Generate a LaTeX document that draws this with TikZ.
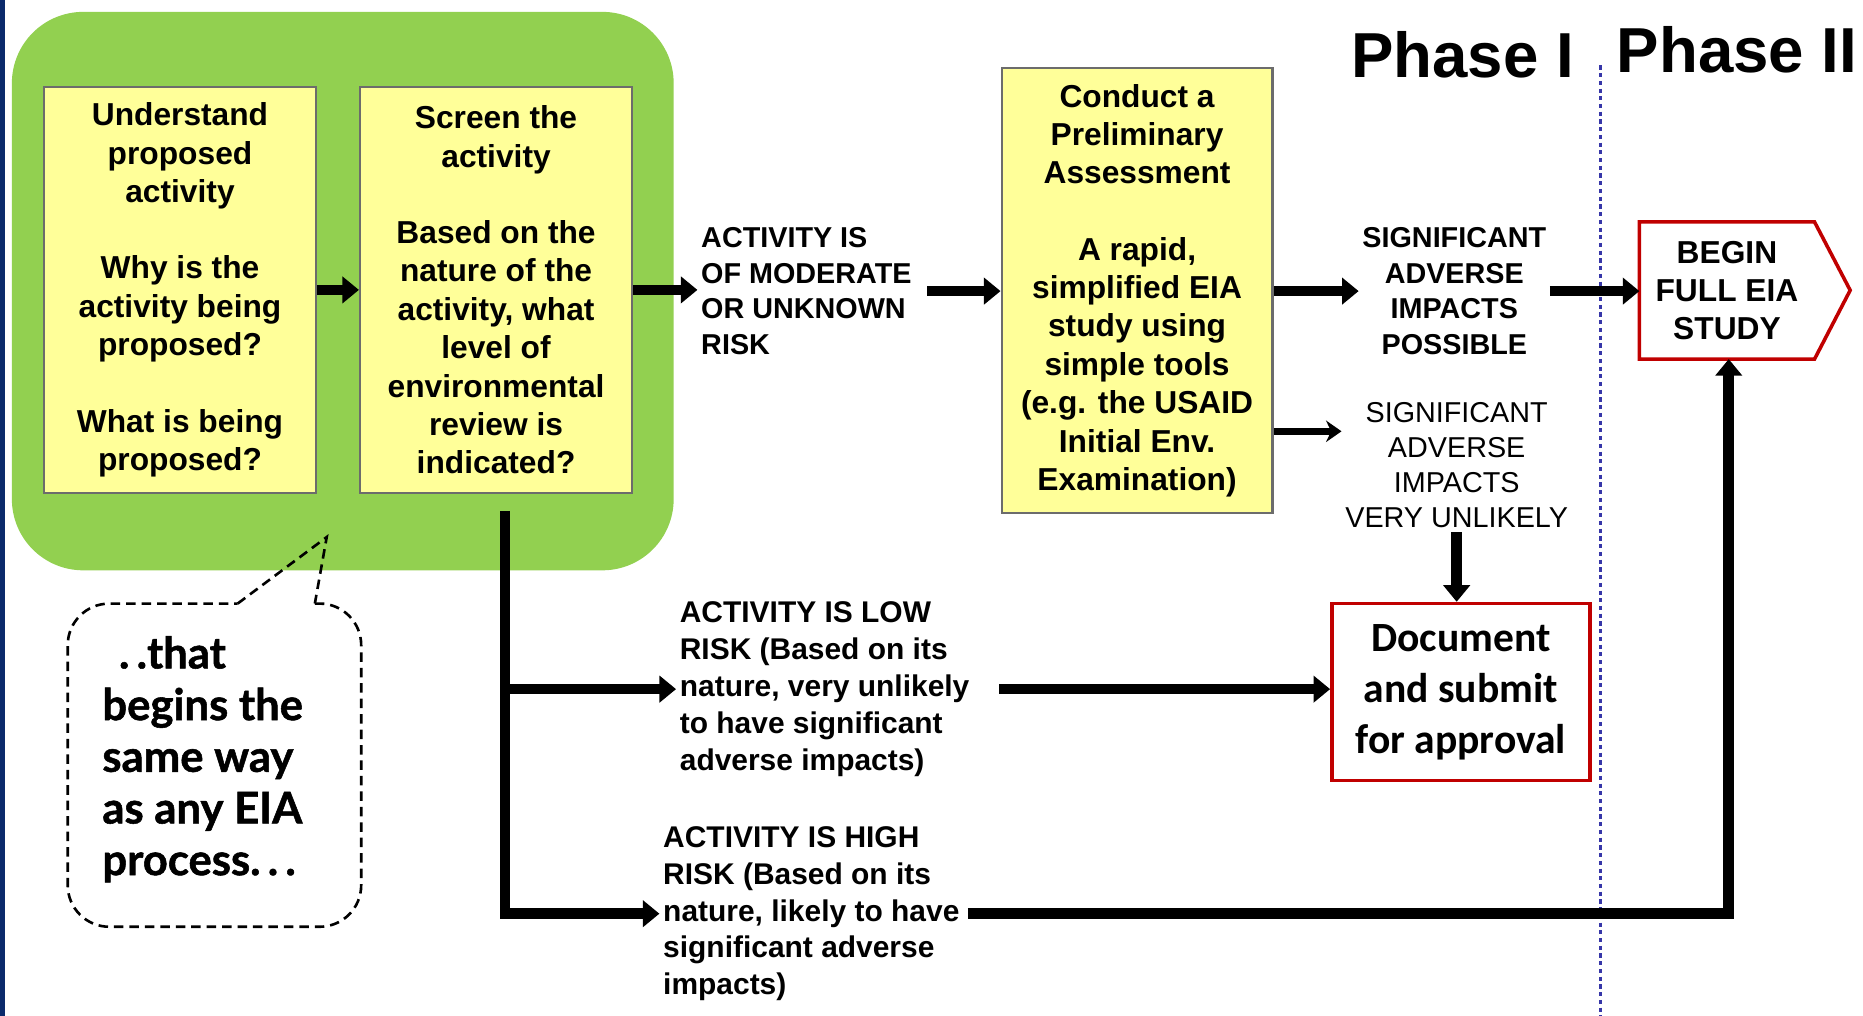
\documentclass[tikz,border=0pt]{standalone}
\usepackage{fontspec}
\setmainfont{Liberation Sans}
\newfontfamily\calloutfont[FakeBold=1.2]{Lato}
\newfontfamily\docfont{Carlito}
\usetikzlibrary{arrows.meta}
\usepackage{xcolor}
\definecolor{leafgreen}{HTML}{92D050}
\definecolor{paleyellow}{HTML}{FFFF99}
\definecolor{boxred}{HTML}{C00000}
\definecolor{navybar}{HTML}{0B2A6B}
\definecolor{phaseblue}{HTML}{3636A8}

\begin{document}
\begin{tikzpicture}[x=1pt, y=-1pt,
        stepbox/.style={draw=gray!85!black, line width=1.8pt, fill=paleyellow, align=center, inner sep=0pt,
            minimum width=229pt, minimum height=342pt, font=\bfseries\fontsize{26.7}{32.3}\selectfont},
        risklabel/.style={inner sep=3pt, font=\bfseries\fontsize{24.2}{30}\selectfont},
        branchlabel/.style={inner sep=3pt, align=left, anchor=west, font=\bfseries\fontsize{25.2}{31}\selectfont},
        redbox/.style={draw=boxred, line width=3pt, fill=white, align=center},
        blockarrow/.style={line width=9pt, -{Triangle[length=14pt, width=22pt]}},
        phase/.style={inner sep=0pt, font=\bfseries\fontsize{53.5}{60}\selectfont}]

        \useasboundingbox (0,0) rectangle (1568,855);
        \fill[navybar] (0,0) rectangle (4,855);
        \fill[leafgreen, rounded corners=60pt] (10,10) rectangle (567,480);

        % first steps
        \node[stepbox] (understand) at (151.5,244) {Understand\\ proposed\\ activity\\[32pt]
            Why is the\\ activity being\\ proposed?\\[32pt] What is being\\ proposed?};
        \node[stepbox] (screen) at (417.5,244) {Screen the\\ activity\\[32pt] Based on the\\ nature of the\\
            activity, what\\ level of\\ environmental\\ review is\\ indicated?};
        \node[stepbox, minimum width=228pt, minimum height=375pt] (prelim) at (957,244.5) {Conduct a\\ Preliminary\\
            Assessment\\[32pt] A rapid,\\ simplified EIA\\ study using\\ simple tools\\ (e.g. the USAID\\
            Initial Env.\\ Examination)};

        \node[risklabel, anchor=west, align=left] (moderate) at (587,245) {ACTIVITY IS\\ OF MODERATE\\ OR UNKNOWN\\ RISK};
        \node[risklabel, align=center] (possible) at (1224,245) {SIGNIFICANT\\ ADVERSE\\ IMPACTS\\ POSSIBLE};
        \node[risklabel, align=center, font=\mdseries\fontsize{24.2}{29.7}\selectfont] (unlikely) at (1226,391.5)
            {SIGNIFICANT\\ ADVERSE\\ IMPACTS\\ VERY UNLIKELY};

        \node[branchlabel] (low) at (569,580) {ACTIVITY IS LOW\\ RISK (Based on its\\ nature, very unlikely\\
            to have significant\\ adverse impacts)};
        \node[branchlabel] (high) at (555,769) {ACTIVITY IS HIGH\\ RISK (Based on its\\ nature, likely to have\\
            significant adverse\\ impacts)};

        % phase II target, pointed on the right
        \node[align=center, minimum width=147pt, minimum height=115pt, inner sep=0pt,
            font=\bfseries\fontsize{26.7}{32}\selectfont] (begin) at (1453.5,244.5) {BEGIN\\ FULL EIA\\ STUDY};
        \draw[boxred, line width=3pt, line join=miter] (begin.north west) -- (begin.north east) -- ++(30,57.5)
            -- (begin.south east) -- (begin.south west) -- cycle;
        \node[redbox, minimum width=217pt, minimum height=149pt, inner sep=0pt,
            font=\docfont\bfseries\fontsize{35}{43}\selectfont] (document) at (1229.5,582.5)
            {Document\\ and submit\\ for approval};

        \node[phase] (phaseone) at (1231,46) {Phase I};
        \node[phase] (phasetwo) at (1462,42) {Phase II};
        \draw[phaseblue, line width=3.2pt, dash pattern=on 3.5pt off 3pt] (1347,55) -- (1347,855);

        % callout
        \draw[dashed, line width=2.2pt, dash pattern=on 8pt off 5pt, rounded corners=35pt]
            (265,508) -- (304,508) -- (304,780) -- (57,780) -- (57,508) -- (200,508);
        \draw[dashed, line width=2.2pt, dash pattern=on 8pt off 5pt] (200,508) -- (275,452) -- (265,508);
        \node[inner sep=0pt, anchor=west, align=left, font=\calloutfont\bfseries\fontsize{36.7}{43.5}\selectfont]
            (callout) at (86,639) {\hspace{14pt}.\,.that\\ begins the\\ same way\\ as any EIA\\ process.\,.\,.};

        \coordinate (trunktop) at (425,430);
        \coordinate (highfork) at (425,769);
        \coordinate (lowfork) at (425,580);
        \coordinate (turn) at (1455,769);
        \coordinate (thinrow) at (0,363);

        \draw[blockarrow] (understand) -- (screen);
        \draw[blockarrow] (screen.east) -- (screen.east -| moderate.west);
        \draw[blockarrow, shorten <=10pt] (moderate.east) -- (moderate.east -| prelim.west);
        \draw[blockarrow] (prelim.east |- possible.west) -- (possible.west);
        \draw[line width=6pt, -{Stealth[length=13pt, width=18pt]}] (prelim.east |- thinrow) -- (unlikely.west |- thinrow);
        \draw[blockarrow] (possible.east) -- (possible.east -| begin.west);
        \draw[blockarrow] (unlikely.south) -- (unlikely.south |- document.north);

        \draw[blockarrow] (trunktop) -- (highfork) -- (highfork -| high.west);
        \draw[blockarrow] (lowfork) -- (lowfork -| low.west);
        \draw[blockarrow, shorten <=22pt] (low.east) -- (low.east -| document.west);
        \draw[blockarrow, shorten <=4pt] (high.east) -- (high.east -| turn) -- (turn |- begin.south);
    \end{tikzpicture}
\end{document}
